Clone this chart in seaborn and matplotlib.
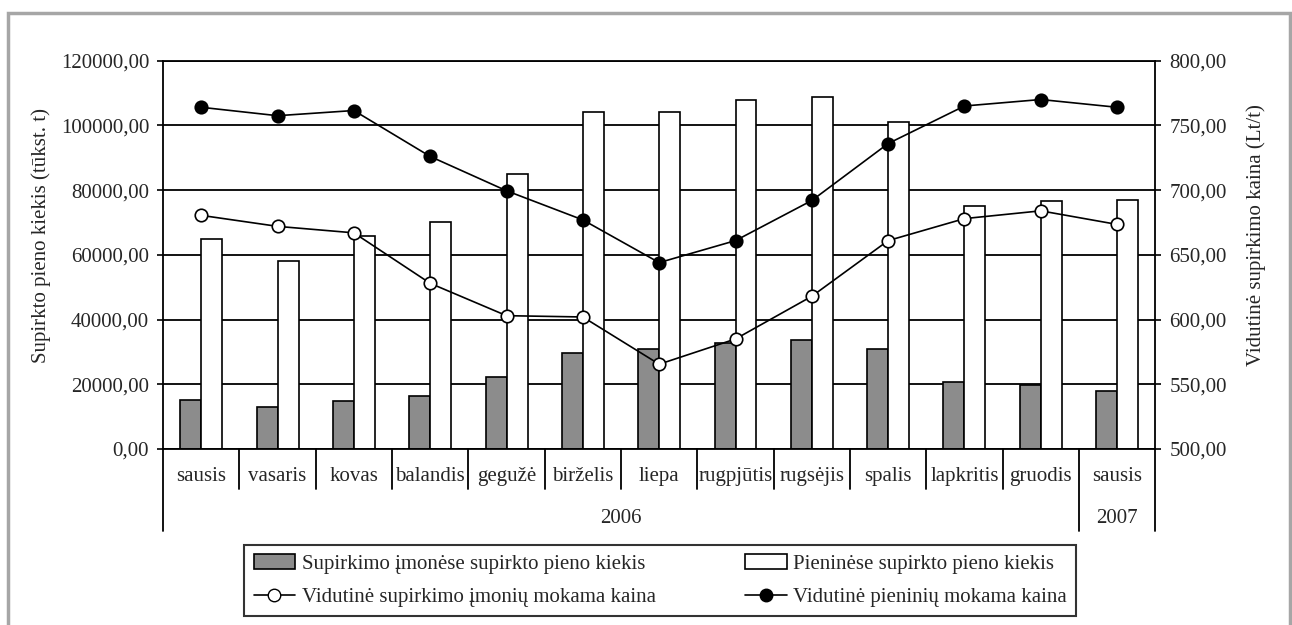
import pandas as pd
import seaborn as sns
import matplotlib.pyplot as plt
from matplotlib.patches import Rectangle, Patch
from matplotlib.lines import Line2D
from matplotlib.ticker import FuncFormatter

months = ["sausis", "vasaris", "kovas", "balandis", "gegužė", "birželis", "liepa",
          "rugpjūtis", "rugsėjis", "spalis", "lapkritis", "gruodis", "sausis"]
years = ["2006", "2007"]
year_span = [(0, 11), (12, 12)]

# supirkto pieno kiekis (tūkst. t)
qty_imones = [15000, 13000, 14700, 16300, 22300, 29800, 30900,
              32800, 33800, 30900, 20700, 19800, 17900]
qty_pienines = [65000, 58000, 65700, 70000, 85000, 104000, 104000,
                107800, 108800, 101200, 75000, 76500, 77000]

# vidutinė kaina (Lt/t)
price_imones = [680.5, 672, 667, 628, 603, 602, 565.5, 585, 618, 661, 678, 684, 673.5]
price_pienines = [764, 757.5, 761.5, 726, 699.5, 677, 644, 661, 692, 736, 765, 770, 764]

lbl_q1 = "Supirkimo įmonėse supirkto pieno kiekis"
lbl_q2 = "Pieninėse supirkto pieno kiekis"
lbl_p1 = "Vidutinė supirkimo įmonių mokama kaina"
lbl_p2 = "Vidutinė pieninių mokama kaina"

idx = list(range(len(months)))
bars = pd.DataFrame({
    "idx": idx * 2,
    "kiekis": qty_imones + qty_pienines,
    "serija": [lbl_q1] * len(idx) + [lbl_q2] * len(idx),
})
prices = pd.DataFrame({"idx": idx, "p1": price_imones, "p2": price_pienines})

FS = 15
sns.set_theme(style="white")
plt.rcParams["font.family"] = ["Liberation Serif", "DejaVu Serif"]
plt.rcParams["font.size"] = FS

fig = plt.figure(figsize=(12.92, 6.25), dpi=100)
ax = fig.add_axes([0.1262, 0.2816, 0.768, 0.6213])

sns.barplot(data=bars, x="idx", y="kiekis", hue="serija", ax=ax,
            palette={lbl_q1: "#8c8c8c", lbl_q2: "white"}, saturation=1,
            width=0.55, edgecolor="black", linewidth=1.2, legend=False)

ax.set_xlim(-0.5, len(months) - 0.5)
ax.set_ylim(0, 120000)
ax.set_yticks(range(0, 120001, 20000))
fmt = FuncFormatter(lambda v, p: f"{v:.2f}".replace(".", ","))
ax.yaxis.set_major_formatter(fmt)
ax.set_axisbelow(True)
ax.yaxis.grid(True, color="black", linewidth=1.3)
ax.set_xticks(idx)
ax.set_xticklabels(months)
ax.tick_params(axis="x", length=0, pad=13, labelsize=FS)
ax.tick_params(axis="y", left=True, length=4, width=1.2, color="black",
               direction="out", labelsize=FS, pad=6)
ax.set_xlabel("")
ax.set_ylabel("Supirkto pieno kiekis (tūkst. t)", fontsize=FS)
ax.yaxis.set_label_coords(-0.113, 0.55)
for s in ["left", "right"]:
    ax.spines[s].set_visible(False)
for s in ["top", "bottom"]:
    ax.spines[s].set_color("black")
    ax.spines[s].set_linewidth(1.3)

ax2 = ax.twinx()
sns.lineplot(data=prices, x="idx", y="p1", ax=ax2, color="black", linewidth=1.2,
             marker="o", markersize=9, markerfacecolor="white",
             markeredgecolor="black", markeredgewidth=1.2)
sns.lineplot(data=prices, x="idx", y="p2", ax=ax2, color="black", linewidth=1.2,
             marker="o", markersize=9, markerfacecolor="black",
             markeredgecolor="black", markeredgewidth=1.2)
ax2.set_ylim(500, 800)
ax2.set_yticks(range(500, 801, 50))
ax2.yaxis.set_major_formatter(fmt)
ax2.tick_params(axis="y", right=True, length=4, width=1.2, color="black",
                direction="out", labelsize=FS, pad=6)
ax2.set_ylabel("Vidutinė supirkimo kaina (Lt/t)", fontsize=FS)
ax2.yaxis.set_label_coords(1.092, 0.55)
ax2.grid(False)
for s in ax2.spines.values():
    s.set_visible(False)
ax2.set_xlim(ax.get_xlim())

# category separators (multi-level axis)
tr = ax.get_xaxis_transform()
long_cuts = [-0.5, 11.5, 12.5]
for k in range(len(months) + 1):
    xb = k - 0.5
    low = -0.211 if xb in long_cuts else -0.103
    ax.plot([xb, xb], [0, low], transform=tr, color="black", linewidth=1.3,
            clip_on=False)
for xb in [-0.5, 12.5]:
    ax.plot([xb, xb], [0, 1], transform=tr, color="black", linewidth=1.3, clip_on=False)
for yr, (a, b) in zip(years, year_span):
    ax.text((a + b) / 2, -0.178, yr, transform=tr, ha="center", va="center", fontsize=FS)

handles = [Patch(facecolor="#8c8c8c", edgecolor="black", linewidth=1.2),
           Line2D([], [], color="black", linewidth=1.2, marker="o", markersize=9,
                  markerfacecolor="white", markeredgecolor="black"),
           Patch(facecolor="white", edgecolor="black", linewidth=1.2),
           Line2D([], [], color="black", linewidth=1.2, marker="o", markersize=9,
                  markerfacecolor="black", markeredgecolor="black")]
leg = fig.legend(handles, [lbl_q1, lbl_p1, lbl_q2, lbl_p2], ncol=2,
                 loc="upper center", bbox_to_anchor=(0.511, 0.128),
                 frameon=True, fancybox=False, shadow=False, fontsize=FS,
                 handlelength=2.0, handleheight=0.7, handletextpad=0.3,
                 columnspacing=4.3, borderpad=0.45, labelspacing=0.65,
                 borderaxespad=0)
leg.get_frame().set_edgecolor("black")
leg.get_frame().set_linewidth(1.5)

# grey frame round the figure
fig.patches.append(Rectangle((8 / 1292, -0.1), 1282 / 1292, 1.1 - 13 / 625,
                             transform=fig.transFigure, fill=False,
                             edgecolor="#a6a6a6", linewidth=2.5))

plt.savefig("out.png", dpi=100)
